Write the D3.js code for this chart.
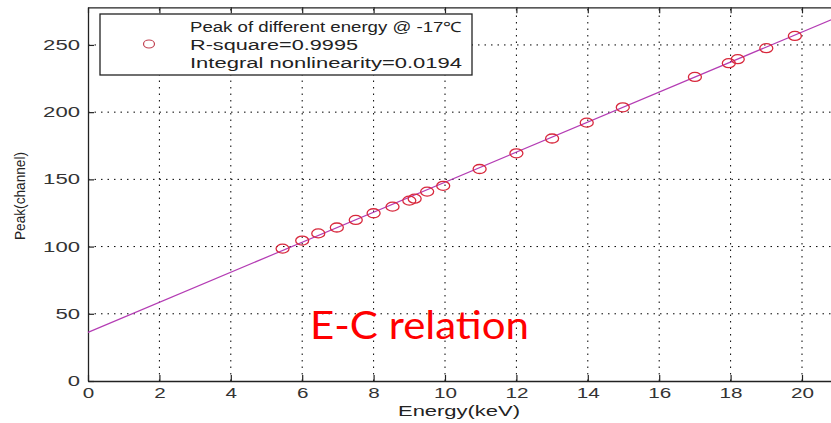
<!DOCTYPE html>
<html>
<head>
<meta charset="utf-8">
<script src="https://cdn.jsdelivr.net/npm/d3@7"></script>
<style>
  body { margin: 0; background: #fff; }
  svg { display: block; }
  .tick text { font-family: "Liberation Sans", Arial, sans-serif; font-size: 14px; fill: #333; }
  .grid line { stroke: #000; stroke-dasharray: 1.5,5; stroke-width: 1; }
</style>
</head>
<body>
<svg></svg>
<script>
var width = 831,
    height = 423;

// measured peaks (channel) for each x-ray energy (keV)
var energy = [5.45, 6.0, 6.45, 6.97, 7.5, 8.0, 8.53, 9.0, 9.15, 9.5, 9.95,
              10.97, 12.0, 13.0, 13.97, 14.98, 17.0, 17.95, 18.2, 19.0, 19.8];
var peak = [98.5, 104.5, 109.8, 114.2, 119.8, 124.8, 129.7, 134.2, 135.6, 140.9, 145.2,
            157.7, 169.4, 180.4, 192.2, 203.6, 226.2, 236.4, 239.4, 247.6, 256.7];

// linear fit drawn across the axis
var fitEnergy = [0, 21];
var fitPeak = [36.2, 270.8];

var xTicks = [0, 2, 4, 6, 8, 10, 12, 14, 16, 18, 20];
var yTicks = [0, 50, 100, 150, 200, 250];

var legendLines = ["Peak of different energy @ -17\u2103",
                   "R-square=0.9995",
                   "Integral nonlinearity=0.0194"];
var legendWidths = [272, 168, 272];

var padL = 88, padT = 7.3, padB = 381, padR = 88 + 21 * 35.7;

var svg = d3.select("svg")
    .attr("width", width)
    .attr("height", height);

var x = d3.scaleLinear().domain([0, 21]).range([padL, padR]);
var y = d3.scaleLinear().domain([0, 278]).range([padB, padT]);

// dotted grid
var grid = svg.append("g").attr("class", "grid");
grid.selectAll(".gx").data(xTicks.slice(1)).enter().append("line")
    .attr("x1", d => x(d)).attr("x2", d => x(d))
    .attr("y1", padB).attr("y2", padT);
grid.selectAll(".gy").data(yTicks.slice(1)).enter().append("line")
    .attr("x1", padL).attr("x2", padR)
    .attr("y1", d => y(d)).attr("y2", d => y(d));

// axes with inward ticks
svg.append("g")
    .attr("transform", "translate(0," + padB + ")")
    .call(d3.axisBottom(x).tickValues(xTicks).tickSizeInner(-6).tickSizeOuter(0).tickPadding(7))
    .call(g => g.selectAll("text")
        .attr("textLength", d => String(d).length * 11.5)
        .attr("lengthAdjust", "spacingAndGlyphs"));

svg.append("g")
    .attr("transform", "translate(0," + padT + ")")
    .call(d3.axisTop(x).tickValues(xTicks).tickSizeInner(-6).tickSizeOuter(0).tickFormat(""));

svg.append("g")
    .attr("transform", "translate(" + padL + ",0)")
    .call(d3.axisLeft(y).tickValues(yTicks).tickSizeInner(-6).tickSizeOuter(0).tickPadding(8))
    .call(g => g.selectAll("text")
        .attr("textLength", d => String(d).length * 12.3)
        .attr("lengthAdjust", "spacingAndGlyphs"));

svg.selectAll(".domain").attr("stroke", "#222").attr("stroke-width", 1.3);
svg.selectAll(".tick line").attr("stroke", "#222").attr("stroke-width", 1.2);

// fit line
var line = d3.line().x(d => x(d[0])).y(d => y(d[1]));
svg.append("path")
    .datum(d3.zip(fitEnergy, fitPeak))
    .attr("d", line)
    .attr("fill", "none")
    .attr("stroke", "#b43cb4")
    .attr("stroke-width", 1.2);

// data markers
svg.selectAll(".pt")
    .data(d3.zip(energy, peak))
    .enter().append("ellipse")
    .attr("class", "pt")
    .attr("cx", d => x(d[0]))
    .attr("cy", d => y(d[1]))
    .attr("rx", 6.5)
    .attr("ry", 4.5)
    .attr("fill", "none")
    .attr("stroke", "#d8283c")
    .attr("stroke-width", 1.3);

// legend
var legend = svg.append("g");
legend.append("rect")
    .attr("x", 100).attr("y", 14)
    .attr("width", 372).attr("height", 61)
    .attr("fill", "#fff")
    .attr("stroke", "#222")
    .attr("stroke-width", 1.3);
legend.append("ellipse")
    .attr("cx", 149).attr("cy", 44)
    .attr("rx", 5.5).attr("ry", 4)
    .attr("fill", "none")
    .attr("stroke", "#c04050")
    .attr("stroke-width", 1.2);
legend.selectAll(".lt")
    .data(legendLines)
    .enter().append("text")
    .attr("x", 190)
    .attr("y", (d, i) => 27 + i * 18)
    .attr("dy", "0.35em")
    .attr("font-family", "Liberation Sans, Arial, sans-serif")
    .attr("font-size", 14)
    .attr("fill", "#222")
    .attr("textLength", (d, i) => legendWidths[i])
    .attr("lengthAdjust", "spacingAndGlyphs")
    .text(d => d);

// axis titles
svg.append("text")
    .attr("x", 459).attr("y", 411)
    .attr("dy", "0.35em")
    .attr("text-anchor", "middle")
    .attr("font-family", "Liberation Sans, Arial, sans-serif")
    .attr("font-size", 14)
    .attr("fill", "#222")
    .attr("textLength", 122)
    .attr("lengthAdjust", "spacingAndGlyphs")
    .text("Energy(keV)");

svg.append("text")
    .attr("transform", "translate(20,196) rotate(-90)")
    .attr("dy", "0.35em")
    .attr("text-anchor", "middle")
    .attr("font-family", "Liberation Sans, Arial, sans-serif")
    .attr("font-size", 15)
    .attr("fill", "#222")
    .attr("textLength", 88)
    .attr("lengthAdjust", "spacingAndGlyphs")
    .text("Peak(channel)");

// annotation
svg.append("text")
    .attr("x", 310).attr("y", 339)
    .attr("font-family", "Lato, sans-serif")
    .attr("font-size", 38)
    .attr("fill", "#ff0000")
    .attr("textLength", 219)
    .attr("lengthAdjust", "spacingAndGlyphs")
    .text("E-C relation");
</script>
</body>
</html>
